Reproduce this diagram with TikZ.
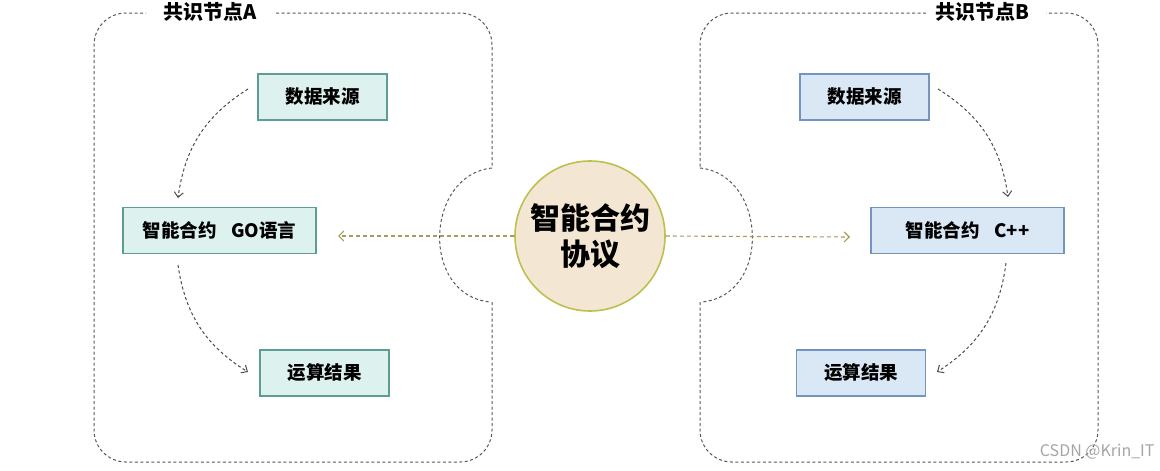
\documentclass[tikz,border=0pt]{standalone}
\usepackage{fontspec}
\setmainfont{Noto Sans CJK SC}
\usetikzlibrary{arrows.meta}
\definecolor{tealfill}{HTML}{DDF2EE}
\definecolor{tealline}{HTML}{5E9C96}
\definecolor{bluefill}{HTML}{DAE7F5}
\definecolor{blueline}{HTML}{7394BE}
\definecolor{circfill}{HTML}{F3E7D3}
\definecolor{circline}{HTML}{BCC04E}
\definecolor{olive}{HTML}{A89A5C}
\tikzset{
  frame/.style={draw=black!65, dashed, dash pattern=on 3pt off 2.5pt, line width=1pt},
  boxA/.style={draw=tealline, fill=tealfill, line width=1.2pt, minimum height=46pt, font=\fontsize{18.5}{21}\selectfont\bfseries, inner sep=0pt},
  boxB/.style={draw=blueline, fill=bluefill, line width=1.2pt, minimum height=46pt, font=\fontsize{18.5}{21}\selectfont\bfseries, inner sep=0pt},
  flow/.style={draw=black!70, dashed, dash pattern=on 3pt off 2.5pt, line width=1pt, -{Straight Barb[length=5pt,width=9pt]}},
  link/.style={draw=olive, dashed, dash pattern=on 4pt off 3pt, line width=1.1pt, -{Straight Barb[length=5pt,width=10pt]}},
  title/.style={font=\fontsize{20}{22}\selectfont\bfseries, inner sep=1pt}
}
\begin{document}
\begin{tikzpicture}[x=1pt,y=-1pt]
\fill[white] (0,0) rectangle (1160,471);
\useasboundingbox (0,0) rectangle (1160,471);
% frame A
\draw[frame, rounded corners=32] (276,13) -- (492,13) -- (492,168);
\draw[frame] (492,168) .. controls (425,175) and (420,295) .. (490,302);
\draw[frame, rounded corners=32] (492,302) -- (492,462) -- (94,462) -- (94,13) -- (146,13);
\node[title] (tA) at (210,12) {共识节点A};
% frame B
\draw[frame, rounded corners=32] (926,13) -- (700,13) -- (700,168);
\draw[frame] (700,168) .. controls (767,175) and (772,295) .. (702,302);
\draw[frame, rounded corners=32] (700,302) -- (700,462) -- (1098,462) -- (1098,13) -- (1046,13);
\node[title] (tB) at (982,12) {共识节点B};
% left boxes
\node[boxA, minimum width=129pt] (a1) at (322.5,97) {数据来源};
\node[boxA, minimum width=193pt] (a2) at (219.5,230.5) {智能合约\hspace{0.8em}GO语言};
\node[boxA, minimum width=129pt] (a3) at (324.5,373) {运算结果};
% right boxes
\node[boxB, minimum width=129pt] (b1) at (864.5,97) {数据来源};
\node[boxB, minimum width=193pt] (b2) at (967.5,230.5) {智能合约\hspace{0.8em}C++};
\node[boxB, minimum width=129pt] (b3) at (861,373) {运算结果};
% circle
\node[circle, draw=circline, fill=circfill, line width=1.6pt, minimum size=150pt, align=center,
      font=\fontsize{30}{36}\selectfont\bfseries] (c) at (590,236) {智能合约\\协议};
% flows
\coordinate (a1s) at (248,89); \coordinate (a2e) at (178,198);
\coordinate (a2s) at (178,265); \coordinate (a3e) at (248,372);
\draw[flow] (a1s) to[bend right=25] (a2e);
\draw[flow] (a2s) to[bend right=25] (a3e);
\coordinate (b1s) at (938,89); \coordinate (b2e) at (1008,197);
\coordinate (b2s) at (1006,263); \coordinate (b3e) at (937,372);
\draw[flow] (b1s) to[bend left=25] (b2e);
\draw[flow] (b2s) to[bend left=25] (b3e);
% links
\coordinate (lA) at (338,236); \coordinate (lB) at (850,237);
\draw[link] (c.west) -- (lA);
\draw[link] (c.east) -- (lB);
\node[font=\fontsize{16}{18}\selectfont, text=black!35, anchor=east] (wm) at (1158,452) {CSDN @Krin\_IT};
\end{tikzpicture}
\end{document}
